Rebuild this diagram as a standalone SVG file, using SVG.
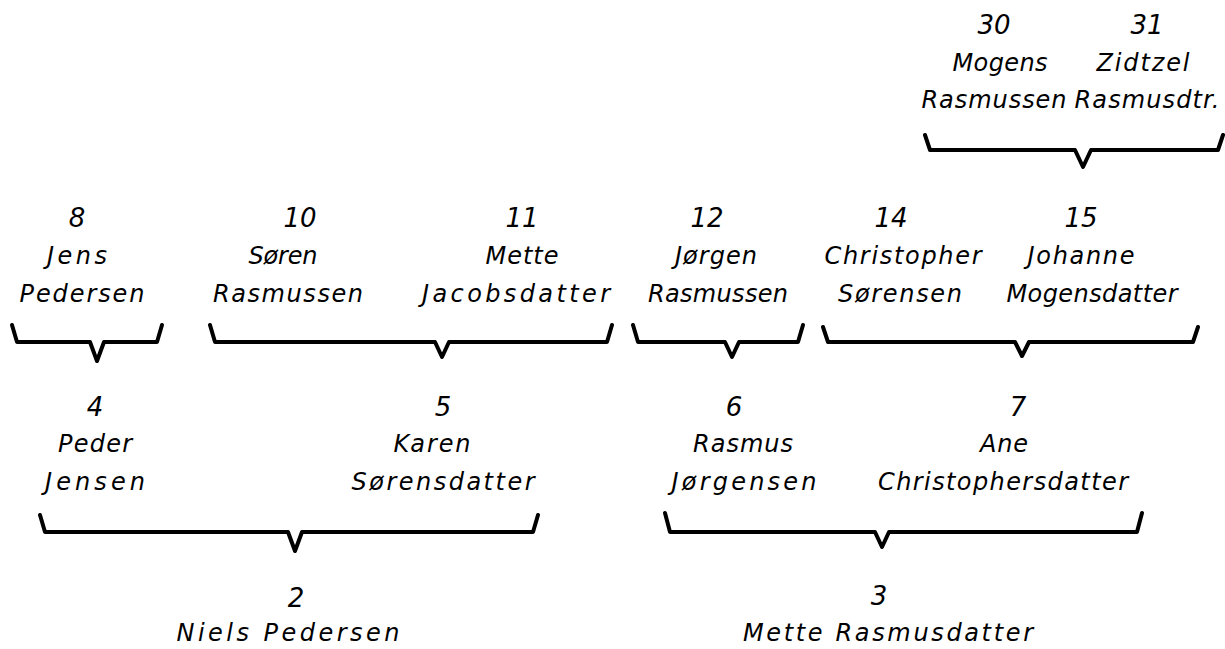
<svg xmlns="http://www.w3.org/2000/svg" width="1225" height="649" viewBox="0 0 1225 649">
<style>
text{font-family:"DejaVu Sans","Liberation Sans",sans-serif;font-style:oblique;fill:#000;text-anchor:middle}
.n{font-size:26px}
.t{font-size:24px}
.br{fill:none;stroke:#000;stroke-width:4;stroke-linejoin:round;stroke-linecap:round}
</style>
<rect width="1225" height="649" fill="#fff"/>
<g id="p30"><text class="n" x="994" y="34">30</text><text class="t" x="1000" y="71" textLength="95">Mogens</text><text class="t" x="994" y="108" textLength="145">Rasmussen</text></g>
<g id="p31"><text class="n" x="1147" y="34">31</text><text class="t" x="1143" y="71" textLength="93">Zidtzel</text><text class="t" x="1147" y="108" textLength="145">Rasmusdtr.</text></g>
<g id="p8"><text class="n" x="77" y="227">8</text><text class="t" x="77" y="264" textLength="60">Jens</text><text class="t" x="82" y="302" textLength="125">Pedersen</text></g>
<g id="p10"><text class="n" x="300" y="227">10</text><text class="t" x="283" y="264" textLength="69">Søren</text><text class="t" x="288" y="302" textLength="150">Rasmussen</text></g>
<g id="p11"><text class="n" x="522" y="227">11</text><text class="t" x="522" y="264" textLength="73">Mette</text><text class="t" x="516" y="302" textLength="188">Jacobsdatter</text></g>
<g id="p12"><text class="n" x="707" y="227">12</text><text class="t" x="716" y="264" textLength="82">Jørgen</text><text class="t" x="718" y="302" textLength="140">Rasmussen</text></g>
<g id="p14"><text class="n" x="891" y="227">14</text><text class="t" x="903" y="264" textLength="157">Christopher</text><text class="t" x="900" y="302" textLength="124">Sørensen</text></g>
<g id="p15"><text class="n" x="1081" y="227">15</text><text class="t" x="1081" y="264" textLength="107">Johanne</text><text class="t" x="1092" y="302" textLength="171">Mogensdatter</text></g>
<g id="p4"><text class="n" x="95" y="416">4</text><text class="t" x="95" y="452" textLength="74">Peder</text><text class="t" x="95" y="490" textLength="100">Jensen</text></g>
<g id="p5"><text class="n" x="443" y="416">5</text><text class="t" x="432" y="452" textLength="77">Karen</text><text class="t" x="443" y="490" textLength="183">Sørensdatter</text></g>
<g id="p6"><text class="n" x="734" y="416">6</text><text class="t" x="743" y="452" textLength="100">Rasmus</text><text class="t" x="744" y="490" textLength="145">Jørgensen</text></g>
<g id="p7"><text class="n" x="1018" y="416">7</text><text class="t" x="1004" y="452" textLength="48">Ane</text><text class="t" x="1003" y="490" textLength="250">Christophersdatter</text></g>
<g id="p2"><text class="n" x="296" y="607">2</text><text class="t" x="288" y="641" textLength="223">Niels Pedersen</text></g>
<g id="p3"><text class="n" x="879" y="605">3</text><text class="t" x="888" y="641" textLength="290">Mette Rasmusdatter</text></g>
<g id="connectors">
<path class="br" d="M925,135 L930,150 L1075,150 L1083,167 L1091,150 L1218,150 L1223,135"/>
<path class="br" d="M12,325 L17,342 L90,342 L97,361 L104,342 L157,342 L162,325"/>
<path class="br" d="M210,325 L215,342 L435,342 L442,357 L449,342 L607,342 L612,325"/>
<path class="br" d="M633,325 L638,342 L725,342 L732,357 L739,342 L798,342 L803,325"/>
<path class="br" d="M823,327 L828,342 L1015,342 L1022,356 L1029,342 L1193,342 L1198,327"/>
<path class="br" d="M40,515 L45,532 L288,532 L295,551 L302,532 L533,532 L538,515"/>
<path class="br" d="M665,513 L670,532 L875,532 L882,547 L889,532 L1137,532 L1142,513"/>
</g>
</svg>
